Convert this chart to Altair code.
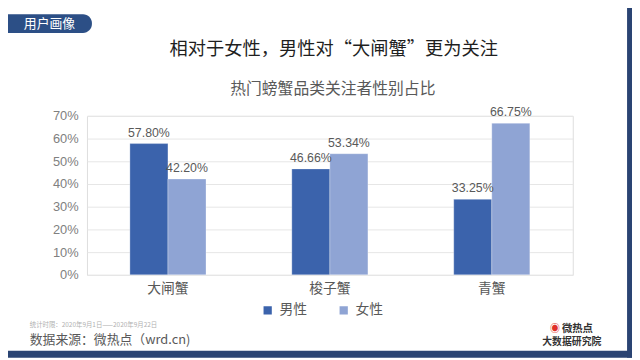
import altair as alt
import pandas as pd

categories = ["大闸蟹", "梭子蟹", "青蟹"]
genders = ["男性", "女性"]
male_values = [57.80, 46.66, 33.25]
female_values = [42.20, 53.34, 66.75]
y_ticks = [0, 10, 20, 30, 40, 50, 60, 70]
colors = ["#3B63AC", "#8FA4D4"]

title_text = "相对于女性，男性对“大闸蟹”更为关注"
subtitle_text = "热门螃蟹品类关注者性别占比"
tab_text = "用户画像"
period_text = "统计时限：2020年9月1日——2020年9月22日"
source_text = "数据来源：微热点（wrd.cn)"

rows = []
for c, m, f in zip(categories, male_values, female_values):
    rows.append({"category": c, "gender": "男性", "value": m, "label": f"{m:.2f}%"})
    rows.append({"category": c, "gender": "女性", "value": f, "label": f"{f:.2f}%"})
df = pd.DataFrame(rows)

CJK = "Noto Sans CJK SC"
NUM = "Liberation Sans"

x_enc = alt.X(
    "category:N", sort=categories,
    scale=alt.Scale(paddingInner=0.53, paddingOuter=0.265),
    axis=alt.Axis(title=None, labelAngle=0, domain=False, ticks=False,
                  labelFontSize=14, labelColor="#595959", labelFont=CJK,
                  labelPadding=7, grid=False),
)
xo_enc = alt.XOffset("gender:N", sort=genders)
y_enc = alt.Y(
    "value:Q",
    scale=alt.Scale(domain=[0, 70], nice=False),
    axis=alt.Axis(title=None, values=y_ticks, labelExpr="datum.value + '%'",
                  domain=False, ticks=False, labelFontSize=13,
                  labelColor="#808080", labelFont=NUM, labelPadding=9,
                  gridColor="#E6E6E6", gridWidth=1),
)

bars = alt.Chart(df).mark_bar(stroke="white", strokeWidth=0.3).encode(
    x=x_enc, xOffset=xo_enc, y=y_enc,
    color=alt.Color("gender:N", sort=genders,
                    scale=alt.Scale(domain=genders, range=colors),
                    legend=alt.Legend(title=None, orient="none", legendX=176,
                                      legendY=190, direction="horizontal",
                                      symbolType="square", symbolSize=70,
                                      symbolStrokeWidth=0,
                                      labelFontSize=14, labelFont=CJK,
                                      labelColor="#595959", columnPadding=30,
                                      labelOffset=5)),
)

labels = alt.Chart(df).mark_text(
    baseline="bottom", dy=-4, fontSize=12.5, font=NUM, color="#595959"
).encode(x=x_enc, xOffset=xo_enc, y=y_enc, text="label:N")

def txt(t, x, y, size, color, weight="normal", align="center", font=CJK):
    return alt.Chart(pd.DataFrame({"t": [t]})).mark_text(
        fontSize=size, color=color, fontWeight=weight, align=align,
        baseline="middle", font=font
    ).encode(text="t:N", x=alt.value(x), y=alt.value(y))

def rect(x, x2, y, y2, color, **kw):
    return alt.Chart(pd.DataFrame({"a": [0]})).mark_rect(color=color, **kw).encode(
        x=alt.value(x), x2=alt.value(x2), y=alt.value(y), y2=alt.value(y2))

frame_color = "#2A4473"
decor = [
    rect(-88, 552, 238, 245, frame_color),
    rect(547, 552, -115, 245, frame_color),
    rect(-88, 5, -103, -84, "#2C4F86", cornerRadiusTopRight=9, cornerRadiusBottomRight=9),
    txt(tab_text, -38, -93.5, 13, "white"),
    txt(title_text, 250, -68, 18.5, "#1F1F1F"),
    txt(subtitle_text, 249, -27, 16, "#595959"),
    txt(period_text, -58, 212, 6.5, "#B0B0B0", align="left"),
    txt(source_text, -58, 227, 13, "#595959", align="left"),
    txt("◉", 474, 216, 10, "#E0302A"),
    txt("微热点", 481, 216, 10.5, "#333333", weight="bold", align="left"),
    txt("大数据研究院", 491, 229.5, 10, "#333333", weight="bold"),
]

chart = alt.layer(bars, labels, *decor).properties(
    width=492, height=161,
    autosize=alt.AutoSizeParams(type="none"),
    padding={"left": 80, "top": 107, "right": 60, "bottom": 84},
).configure_view(stroke=None).configure(background="white")

chart.save("out.html", embed_options={"renderer": "svg", "actions": False})
